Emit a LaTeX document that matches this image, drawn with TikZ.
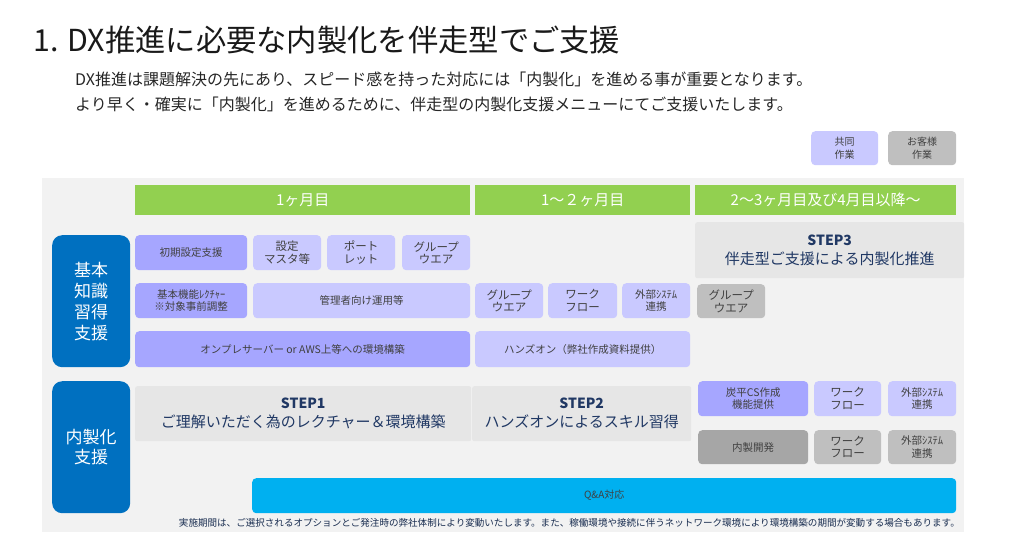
\documentclass[tikz,border=0pt]{standalone}
\usepackage{fontspec}
\setmainfont{Noto Sans CJK JP}
\definecolor{panel}{HTML}{F2F2F2}
\definecolor{grn}{HTML}{92D050}
\definecolor{purD}{HTML}{A6A6FF}
\definecolor{purL}{HTML}{C9C9FF}
\definecolor{gryL}{HTML}{BFBFBF}
\definecolor{gryD}{HTML}{A6A6A6}
\definecolor{blu}{HTML}{0070C0}
\definecolor{qacol}{HTML}{00B0F0}
\definecolor{stepbg}{HTML}{E6E6E6}
\definecolor{navy}{HTML}{203864}
\definecolor{txt}{HTML}{404040}
\tikzset{
  bx/.style={rounded corners=4pt, anchor=north west, inner sep=0pt, align=center, text=txt, font=\fontsize{10.5}{12.5}\selectfont},
  dk/.style={bx, fill=purD},
  lt/.style={bx, fill=purL},
  gl/.style={bx, fill=gryL},
  gd/.style={bx, fill=gryD},
  hdr/.style={anchor=north west, inner sep=0pt, fill=grn, text=white, font=\fontsize{15}{17}\selectfont},
  sidebox/.style={rounded corners=10pt, anchor=north west, inner sep=0pt, fill=blu, text=white, align=center, font=\fontsize{17}{21}\selectfont},
  stepbox/.style={rounded corners=2pt, anchor=north west, inner sep=0pt, fill=stepbg, text=navy, align=center, font=\fontsize{15}{19}\selectfont},
}
\begin{document}
\begin{tikzpicture}[x=1pt,y=-1pt]
\useasboundingbox (0,0) rectangle (1024,550);
% title
\node[anchor=west, inner sep=0pt, text=black!90, font=\fontsize{30.3}{34}\selectfont] (title) at (33,40) {1. DX推進に必要な内製化を伴走型でご支援};
\node[anchor=west, inner sep=0pt, text=black!85, font=\fontsize{16}{19}\selectfont] (sub1) at (75,79) {DX推進は課題解決の先にあり、スピード感を持った対応には「内製化」を進める事が重要となります。};
\node[anchor=west, inner sep=0pt, text=black!85, font=\fontsize{16}{19}\selectfont] (sub2) at (75,104) {より早く・確実に「内製化」を進めるために、伴走型の内製化支援メニューにてご支援いたします。};
% legend
\node[lt, minimum width=67pt, minimum height=34pt, font=\fontsize{10}{12.5}\selectfont] (leg1) at (811,131) {共同\\作業};
\node[gl, minimum width=68pt, minimum height=34pt, font=\fontsize{10}{12.5}\selectfont] (leg2) at (888,131) {お客様\\作業};
% panel
\fill[panel] (42,178) rectangle (964,532);
% headers
\node[hdr, minimum width=335pt, minimum height=30pt] (h1) at (135,185) {1ヶ月目};
\node[hdr, minimum width=215pt, minimum height=30pt] (h2) at (475,185) {1～２ヶ月目};
\node[hdr, minimum width=261pt, minimum height=30pt] (h3) at (695,185) {2～3ヶ月目及び4月目以降～};
% side boxes
\node[sidebox, minimum width=78pt, minimum height=132pt] (s1) at (52,235) {基本\\知識\\習得\\支援};
\node[sidebox, minimum width=78pt, minimum height=132pt, font=\fontsize{17}{20}\selectfont] (s2) at (52,381) {内製化\\支援};
% row 1
\node[dk, minimum width=112pt, minimum height=35pt] (r1a) at (135,235) {初期設定支援};
\node[lt, minimum width=68pt, minimum height=35pt, font=\fontsize{11.5}{12.5}\selectfont] (r1b) at (253,235) {設定\\マスタ等};
\node[lt, minimum width=68pt, minimum height=35pt, font=\fontsize{11.5}{12.5}\selectfont] (r1c) at (327,235) {ポート\\レット};
\node[lt, minimum width=68pt, minimum height=35pt, font=\fontsize{11.5}{12.5}\selectfont] (r1d) at (402,235) {グループ\\ウエア};
% row 2
\node[dk, minimum width=112pt, minimum height=35pt] (r2a) at (135,283) {基本機能ﾚｸﾁｬｰ\\※対象事前調整};
\node[lt, minimum width=217pt, minimum height=35pt] (r2b) at (253,283) {管理者向け運用等};
\node[lt, minimum width=68pt, minimum height=35pt, font=\fontsize{11.5}{12.5}\selectfont] (r2c) at (475,283) {グループ\\ウエア};
\node[lt, minimum width=69pt, minimum height=35pt, font=\fontsize{11.5}{12.5}\selectfont] (r2d) at (548,283) {ワーク\\フロー};
\node[lt, minimum width=68pt, minimum height=35pt] (r2e) at (622,283) {外部ｼｽﾃﾑ\\連携};
\node[gl, minimum width=68pt, minimum height=34pt, font=\fontsize{11.5}{12.5}\selectfont] (r2f) at (697,284) {グループ\\ウエア};
% row 3
\node[dk, minimum width=335pt, minimum height=36pt] (r3a) at (135,331) {オンプレサーバー or AWS上等への環境構築};
\node[lt, minimum width=215pt, minimum height=36pt] (r3b) at (475,331) {ハンズオン（弊社作成資料提供）};
% steps
\node[stepbox, minimum width=269pt, minimum height=56pt] (st3) at (695,222) {{\bfseries\fontsize{14}{19}\selectfont STEP3}\\伴走型ご支援による内製化推進};
\node[stepbox, minimum width=336pt, minimum height=55pt] (st1) at (135,386) {{\bfseries\fontsize{14}{19}\selectfont STEP1}\\ご理解いただく為のレクチャー＆環境構築};
\node[stepbox, minimum width=219pt, minimum height=55pt] (st2) at (472,386) {{\bfseries\fontsize{14}{19}\selectfont STEP2}\\ハンズオンによるスキル習得};
% right rows
\node[dk, minimum width=110pt, minimum height=35pt] (ra1) at (698,381) {炭平CS作成\\機能提供};
\node[lt, minimum width=67pt, minimum height=35pt, font=\fontsize{11.5}{12.5}\selectfont] (ra2) at (814,381) {ワーク\\フロー};
\node[lt, minimum width=68pt, minimum height=35pt] (ra3) at (888,381) {外部ｼｽﾃﾑ\\連携};
\node[gd, minimum width=110pt, minimum height=34pt] (rb1) at (698,430) {内製開発};
\node[gl, minimum width=67pt, minimum height=34pt, font=\fontsize{11.5}{12.5}\selectfont] (rb2) at (814,430) {ワーク\\フロー};
\node[gl, minimum width=68pt, minimum height=34pt] (rb3) at (888,430) {外部ｼｽﾃﾑ\\連携};
% Q&A
\node[bx, fill=qacol, minimum width=704pt, minimum height=35pt, font=\fontsize{10}{12}\selectfont] (qa) at (252,478) {Q\&A対応};
% footnote
\node[anchor=east, inner sep=0pt, text=navy!80!black, font=\fontsize{9.55}{11}\selectfont] (note) at (960,523) {実施期間は、ご選択されるオプションとご発注時の弊社体制により変動いたします。また、稼働環境や接続に伴うネットワーク環境により環境構築の期間が変動する場合もあります。};
\end{tikzpicture}
\end{document}
